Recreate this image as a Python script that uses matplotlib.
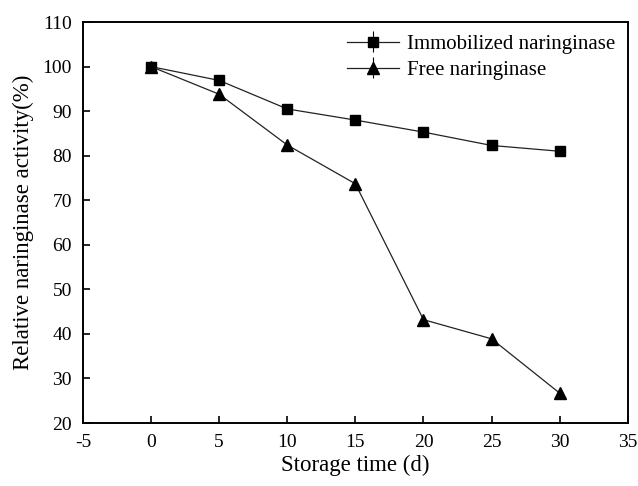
import matplotlib
matplotlib.use("Agg")
import matplotlib.pyplot as plt

plt.rcParams['font.family'] = ['Liberation Serif', 'DejaVu Serif']

days = [0, 5, 10, 15, 20, 25, 30]
immobilized = [100, 96.9, 90.5, 88.0, 85.3, 82.3, 81.0]
immobilized_err = [0.8, 0.8, 0.7, 0.6, 0.6, 0.6, 0.6]
free = [100, 93.8, 82.4, 73.7, 43.2, 38.9, 26.7]
free_err = [1.0, 1.2, 1.2, 1.0, 1.0, 1.0, 1.0]

xticks = [-5, 0, 5, 10, 15, 20, 25, 30, 35]
yticks = [20, 30, 40, 50, 60, 70, 80, 90, 100, 110]

fig = plt.figure(figsize=(6.38, 4.86), dpi=100)
ax = fig.add_axes([0.130, 0.1296, 0.854, 0.825])

ax.errorbar(days, immobilized, yerr=immobilized_err, color='#222222', marker='s',
            markersize=6.5, markerfacecolor='black', markeredgecolor='black',
            linewidth=0.9, elinewidth=0.8, ecolor='black', capsize=0,
            label='Immobilized naringinase')
ax.errorbar(days, free, yerr=free_err, color='#222222', marker='^',
            markersize=8, markerfacecolor='black', markeredgecolor='black',
            linewidth=0.9, elinewidth=0.8, ecolor='black', capsize=0,
            label='Free naringinase')

ax.set_xlim(-5, 35)
ax.set_ylim(20, 110)
ax.set_xticks(xticks)
ax.set_yticks(yticks)
ax.set_xticklabels([str(t) for t in xticks])
ax.set_yticklabels([str(t) for t in yticks])
ax.tick_params(direction='in', length=5, width=1.2, labelsize=14,
               top=False, right=False)
ax.tick_params(axis='x', pad=8)
ax.tick_params(axis='y', pad=8)
for s in ax.spines.values():
    s.set_linewidth(1.4)

ax.set_xlabel('Storage time (d)', fontsize=16.5, labelpad=3)
ax.set_ylabel('Relative naringinase activity(%)', fontsize=16.5, labelpad=6)

leg = ax.legend(loc='upper right', frameon=False, fontsize=15,
                handlelength=2.5, borderaxespad=0.2, labelspacing=0.3,
                handletextpad=0.4)

fig.savefig('out.png', dpi=100)
